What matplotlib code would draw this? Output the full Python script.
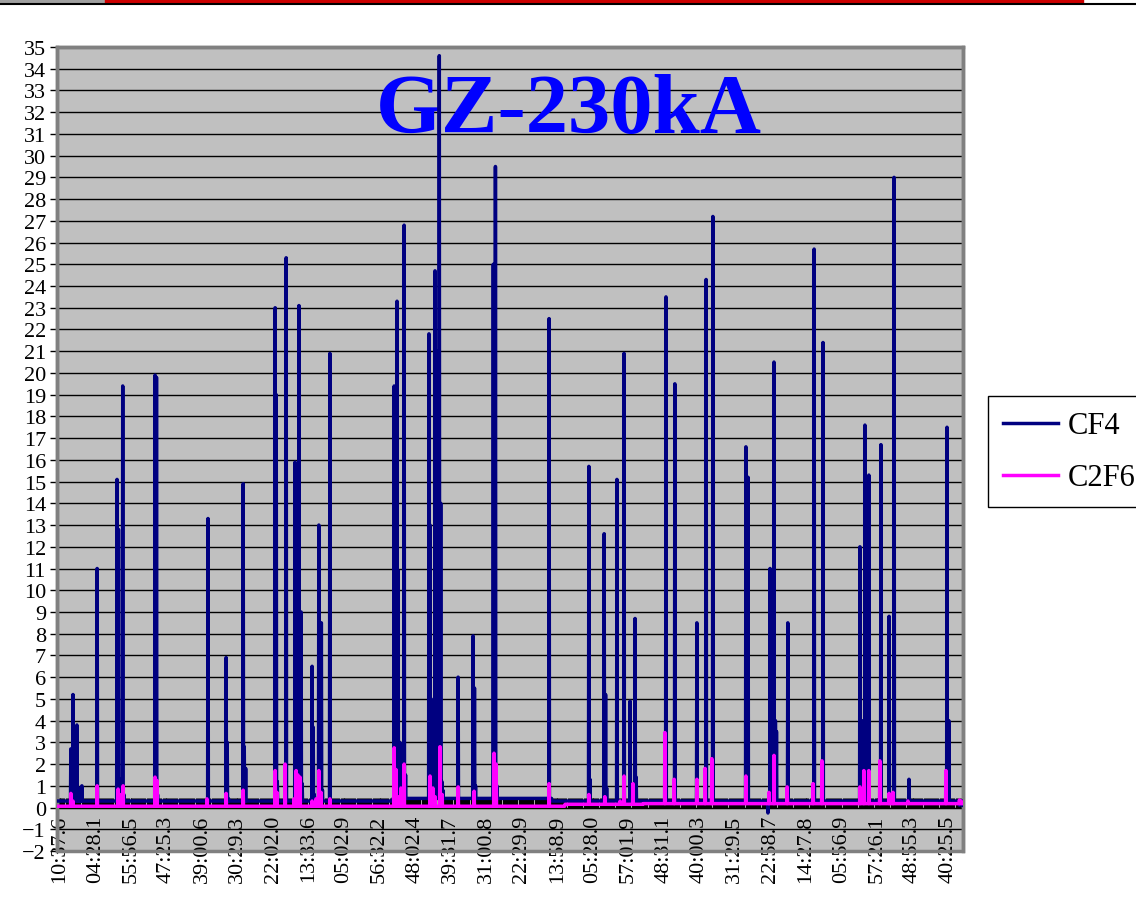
import numpy as np
import matplotlib.pyplot as plt
from matplotlib.patches import Rectangle
from matplotlib.ticker import MultipleLocator

plt.rcParams['font.family'] = ['Liberation Serif', 'DejaVu Serif']

# number of samples in the record
n_samples = 2550

time_labels = ['10:37.6', '04:28.1', '55:56.5', '47:25.3', '39:00.6', '30:29.3',
               '22:02.0', '13:33.6', '05:02.9', '56:32.2', '48:02.4', '39:31.7',
               '31:00.8', '22:29.9', '13:58.9', '05:28.0', '57:01.9', '48:31.1',
               '40:00.3', '31:29.5', '22:58.7', '14:27.8', '05:56.9', '57:26.1',
               '48:55.3', '40:25.5']

# background level of each gas (sample where the level starts, level)
cf4_base_start = [0, 946, 1393]
cf4_base_level = [0.3, 0.42, 0.3]
c2f6_base_start = [0, 1430, 1650]
c2f6_base_level = [0.06, 0.15, 0.18]

# anode-effect peaks (sample index, concentration)
cf4_peak_t = [39, 42, 45, 48, 56, 59, 62, 65, 70,
              113,
              169, 173, 176, 185, 188,
              276, 280, 283,
              425,
              476, 479, 483,
              524, 527, 531,
              614, 617, 620,
              645,
              670, 673, 676, 681, 684, 687, 690,
              718, 721, 724,
              737, 740, 744, 747,
              768,
              949, 952, 957, 960, 965, 977, 981,
              1047, 1050, 1053, 1064, 1068, 1071, 1076, 1080, 1083, 1086,
              1129,
              1171, 1175, 1178,
              1228, 1234, 1238,
              1385,
              1497, 1500,
              1540, 1544, 1547,
              1576, 1596, 1613, 1627, 1630,
              1714, 1739, 1801, 1827, 1846,
              1939, 1945,
              2001, 2007, 2012, 2018, 2022, 2025,
              2057, 2131, 2156,
              2260, 2265, 2274, 2285,
              2319, 2342, 2356, 2398,
              2505, 2510, 2515, 2540, 2549]
cf4_peak_v = [2.7, 0.8, 5.2, 0.6, 3.8, 0.5, 0.9, 0.6, 1.0,
              11.0,
              15.1, 12.8, 1.3, 19.4, 0.6,
              19.9, 19.8, 0.6,
              13.3,
              6.9, 3.0, 0.4,
              14.9, 2.8, 1.8,
              23.0, 19.0, 1.2,
              25.3,
              15.9, 5.3, 11.6, 23.1, 6.0, 9.0, 1.1,
              6.5, 3.7, 0.6,
              13.0, 8.5, 8.5, 0.8,
              20.9,
              19.4, 2.0, 23.3, 10.9, 3.0, 26.8, 1.5,
              21.8, 13.0, 5.0, 24.7, 21.0, 2.0, 34.6, 14.0, 1.2, 0.8,
              6.0,
              7.9, 5.5, 1.0,
              25.0, 29.5, 1.0,
              22.5,
              15.7, 1.3,
              12.6, 5.2, 0.9,
              15.1, 20.9, 4.9, 8.7, 1.4,
              23.5, 19.5, 8.5, 24.3, 27.2,
              16.6, 15.2,
              -0.25, 11.0, 9.4, 20.5, 4.0, 3.5,
              8.5, 25.7, 21.4,
              12.0, 4.0, 17.6, 15.3,
              16.7, 8.8, 29.0, 1.3,
              17.5, 4.0, 0.3, 0.1, 0.1]

c2f6_peak_t = [39, 45, 113, 172, 177, 186, 276, 281, 422, 476, 524,
               614, 619, 642, 667, 673, 678, 684, 718, 729, 737, 743, 768,
               949, 954, 960, 968, 977, 1050, 1058, 1064, 1078, 1084,
               1129, 1174, 1230, 1236, 1385, 1497, 1542, 1585, 1596, 1621,
               1711, 1737, 1801, 1824, 1843, 1939, 2004, 2018, 2055,
               2128, 2153, 2260, 2271, 2285, 2316, 2342, 2353, 2395, 2502,
               2540, 2545]
c2f6_peak_v = [0.65, 0.3, 1.0, 0.85, 0.6, 1.0, 1.4, 1.25, 0.4, 0.65, 0.8,
               1.7, 0.7, 2.0, 0.4, 1.7, 1.5, 1.4, 0.3, 0.4, 1.7, 0.7, 0.4,
               2.75, 1.75, 0.5, 0.9, 2.0, 1.45, 0.9, 0.5, 2.8, 0.6,
               0.95, 0.75, 2.5, 2.0, 1.1, 0.6, 0.5, 0.3, 1.45, 1.1,
               3.45, 1.3, 1.3, 1.8, 2.25, 1.45, 0.7, 2.4, 0.95,
               1.1, 2.15, 0.95, 1.7, 1.7, 2.15, 0.65, 0.7, 0.3, 1.7,
               0.35, 0.3]


def build_series(base_start, base_level, peak_t, peak_v):
    y = np.zeros(n_samples)
    for s, lev in zip(base_start, base_level):
        y[s:] = lev
    y[peak_t] = peak_v
    return y


x = np.arange(n_samples)
cf4 = build_series(cf4_base_start, cf4_base_level, cf4_peak_t, cf4_peak_v)
c2f6 = build_series(c2f6_base_start, c2f6_base_level, c2f6_peak_t, c2f6_peak_v)

fig = plt.figure(figsize=(11.36, 9.2), dpi=100)
ax = fig.add_axes([57 / 1136, 1 - 852 / 920, 906 / 1136, 804 / 920])
ax.set_facecolor('#C0C0C0')

# category axis crosses at zero (set first: moving the spine resets the ticks)
ax.spines['bottom'].set_position(('data', 0))
ax.spines['bottom'].set_color('black')
for side in ['left', 'top', 'right']:
    ax.spines[side].set_color('#808080')
    ax.spines[side].set_linewidth(2.5)

ax.plot(x, cf4, color='#000080', lw=2.5, label='CF4', zorder=3)
ax.plot(x, c2f6, color='#FF00FF', lw=2.5, label='C2F6', zorder=4)

ax.set_xlim(0, n_samples)
ax.set_ylim(-2, 35)
ax.set_yticks(range(-2, 36))
ax.yaxis.grid(True, color='black', lw=1)
ax.tick_params(axis='y', direction='out', length=5, width=1, labelsize=16, pad=3)

ax.set_xticks(8 + 100 * np.arange(len(time_labels)))
ax.set_xticklabels(time_labels)
ax.xaxis.set_minor_locator(MultipleLocator(3))
ax.tick_params(axis='x', which='both', direction='in', length=7, width=0.8,
               color='black', pad=5, labelrotation=90, labelsize=16)

ax.add_patch(Rectangle((0, 0), 1, 1, transform=ax.transAxes, fill=False,
                       edgecolor='#808080', lw=2.5, clip_on=False, zorder=2.6))

ax.text(569 / 1136, 1 - 133 / 920, 'GZ-230kA', transform=fig.transFigure,
        ha='center', va='baseline', fontsize=61, fontweight='bold',
        color='#0000FF', zorder=2.5, clip_on=False)

leg = ax.legend(loc='upper left', bbox_to_anchor=(988 / 1136, 1 - 397 / 920),
                bbox_transform=fig.transFigure, borderaxespad=0, fontsize=22,
                frameon=True, fancybox=False, framealpha=1, edgecolor='black',
                handlelength=1.8, handletextpad=0.3, borderpad=0.5,
                labelspacing=0.75)
leg.get_frame().set_linewidth(1)

# strip at the top of the slide
fig.add_artist(Rectangle((0, 1 - 3 / 920), 105 / 1136, 3 / 920,
                         transform=fig.transFigure, color='#A0A0A0'))
fig.add_artist(Rectangle((105 / 1136, 1 - 4 / 920), 978 / 1136, 4 / 920,
                         transform=fig.transFigure, color='#CC0000'))
fig.add_artist(plt.Line2D([0, 1], [1 - 5 / 920, 1 - 5 / 920],
                          transform=fig.transFigure, color='black', lw=1.5))

fig.savefig('out.png', dpi=100)
